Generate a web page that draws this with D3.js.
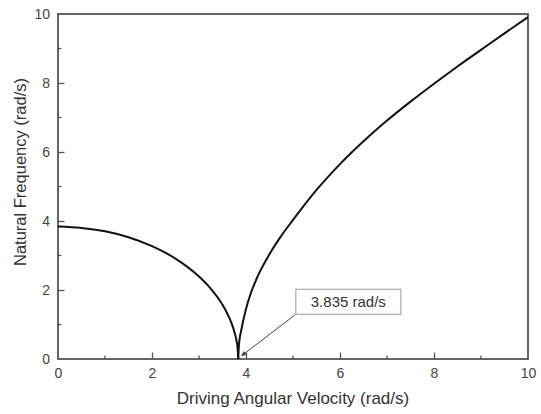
<!DOCTYPE html>
<html>
<head>
<meta charset="utf-8">
<script src="https://cdn.jsdelivr.net/npm/d3@7"></script>
<style>
  html, body { margin: 0; padding: 0; background: #fff; }
  svg { display: block; }
  text { font-family: "Liberation Sans", Arial, sans-serif; }
</style>
</head>
<body>
<svg id="chart" width="541" height="414"></svg>
<script>
// ---- data ----
const lowerBranchX = [0, 0.5, 1, 1.5, 2, 2.5, 3, 3.25, 3.5, 3.6, 3.7, 3.75, 3.8, 3.82, 3.835];
const lowerBranchY = [3.84, 3.80, 3.70, 3.53, 3.27, 2.91, 2.39, 2.04, 1.57, 1.32, 1.01, 0.80, 0.52, 0.34, 0];
const upperBranchX = [3.835, 3.85, 3.9, 4.0, 4.1, 4.25, 4.5, 4.75, 5.0, 5.5, 6.0, 6.5, 7.0, 7.5, 8.0, 8.5, 9.0, 9.5, 10];
const upperBranchY = [0, 0.42, 0.84, 1.45, 1.9, 2.4, 3.04, 3.57, 4.03, 4.9, 5.65, 6.31, 6.91, 7.46, 7.98, 8.48, 8.96, 9.44, 9.91];
const xTicks = [0, 2, 4, 6, 8, 10];
const yTicks = [0, 2, 4, 6, 8, 10];
const xMinorTicks = [1, 3, 5, 7, 9];
const yMinorTicks = [1, 3, 5, 7, 9];
const xTitle = "Driving Angular Velocity (rad/s)";
const yTitle = "Natural Frequency (rad/s)";
const annotationPoint = [3.835, 0];
const annotationBoxAt = [5.06, 2.02];
const annotationText = "3.835 rad/s";

(function () {
// ---- layout ----
const svg = d3.select("#chart");
const mLeft = 58, mRight = 528, mTop = 14, mBottom = 359;
const x = d3.scaleLinear().domain([0, 10]).range([mLeft, mRight]);
const y = d3.scaleLinear().domain([0, 10]).range([mBottom, mTop]);

const frameColor = "#555";
const labelColor = "#444";

// minor ticks (inward)
const gx = svg.append("g");
gx.selectAll(".xminor").data(xMinorTicks).enter().append("line")
  .attr("x1", d => x(d)).attr("x2", d => x(d))
  .attr("y1", mBottom).attr("y2", mBottom - 3.5)
  .attr("stroke", frameColor).attr("stroke-width", 1.3);
gx.selectAll(".yminor").data(yMinorTicks).enter().append("line")
  .attr("x1", mLeft).attr("x2", mLeft + 3.5)
  .attr("y1", d => y(d)).attr("y2", d => y(d))
  .attr("stroke", frameColor).attr("stroke-width", 1.3);

// axes with d3 axis generators (inward ticks)
const xAxis = d3.axisBottom(x).tickValues(xTicks).tickFormat(d3.format("d"))
  .tickSizeInner(-6.5).tickSizeOuter(0).tickPadding(9);
const yAxis = d3.axisLeft(y).tickValues(yTicks).tickFormat(d3.format("d"))
  .tickSizeInner(-6.5).tickSizeOuter(0).tickPadding(8);

const xa = svg.append("g").attr("transform", `translate(0,${mBottom})`).call(xAxis);
const ya = svg.append("g").attr("transform", `translate(${mLeft},0)`).call(yAxis);
[xa, ya].forEach(g => {
  g.select(".domain").remove();
  g.selectAll(".tick line").attr("stroke", frameColor).attr("stroke-width", 1.3);
  g.selectAll(".tick text").attr("fill", labelColor)
    .style("font-size", "14px").style("font-family", "'Liberation Sans', Arial, sans-serif");
});
xa.selectAll(".tick line").filter(d => d === 0 || d === 10).remove();
ya.selectAll(".tick line").filter(d => d === 0 || d === 10).remove();

// frame
svg.append("rect")
  .attr("x", mLeft).attr("y", mTop)
  .attr("width", mRight - mLeft).attr("height", mBottom - mTop)
  .attr("fill", "none").attr("stroke", frameColor).attr("stroke-width", 1.8);

// curve
const line = d3.line().x(d => x(d[0])).y(d => y(d[1])).curve(d3.curveMonotoneX);
const lower = lowerBranchX.map((v, i) => [v, lowerBranchY[i]]);
const upper = upperBranchX.map((v, i) => [v, upperBranchY[i]]);
[lower, upper].forEach(pts => {
  svg.append("path").datum(pts).attr("d", line)
    .attr("fill", "none").attr("stroke", "#111").attr("stroke-width", 2)
    .attr("stroke-linejoin", "round");
});

// annotation
const boxW = 105, boxH = 25;
const bx = x(annotationBoxAt[0]), by = y(annotationBoxAt[1]);
const px = x(annotationPoint[0]) + 3, py = y(annotationPoint[1]) - 3;
svg.append("line")
  .attr("x1", bx).attr("y1", by + boxH).attr("x2", px).attr("y2", py)
  .attr("stroke", "#444").attr("stroke-width", 1);
const ang = Math.atan2(py - (by + boxH), px - bx);
const ah = 5, aw = 2.5;
const tip = [px, py];
const base = [px - ah * Math.cos(ang), py - ah * Math.sin(ang)];
svg.append("path")
  .attr("d", d3.line()([
    tip,
    [base[0] + aw * Math.sin(ang), base[1] - aw * Math.cos(ang)],
    [base[0] - aw * Math.sin(ang), base[1] + aw * Math.cos(ang)]
  ]) + "Z")
  .attr("fill", "#444");
svg.append("rect")
  .attr("x", bx).attr("y", by).attr("width", boxW).attr("height", boxH)
  .attr("fill", "#fff").attr("stroke", "#aaa").attr("stroke-width", 1.2);
svg.append("text")
  .attr("x", bx + boxW / 2).attr("y", by + boxH / 2 + 5)
  .attr("text-anchor", "middle").attr("fill", "#333")
  .style("font-size", "15px").text(annotationText);

// axis titles
svg.append("text")
  .attr("x", (mLeft + mRight) / 2).attr("y", 404)
  .attr("text-anchor", "middle").attr("fill", "#333")
  .style("font-size", "17px").text(xTitle);
svg.append("text")
  .attr("transform", `translate(26,172) rotate(-90)`)
  .attr("text-anchor", "middle").attr("fill", "#333")
  .style("font-size", "16.5px").text(yTitle);
})();
</script>
</body>
</html>
